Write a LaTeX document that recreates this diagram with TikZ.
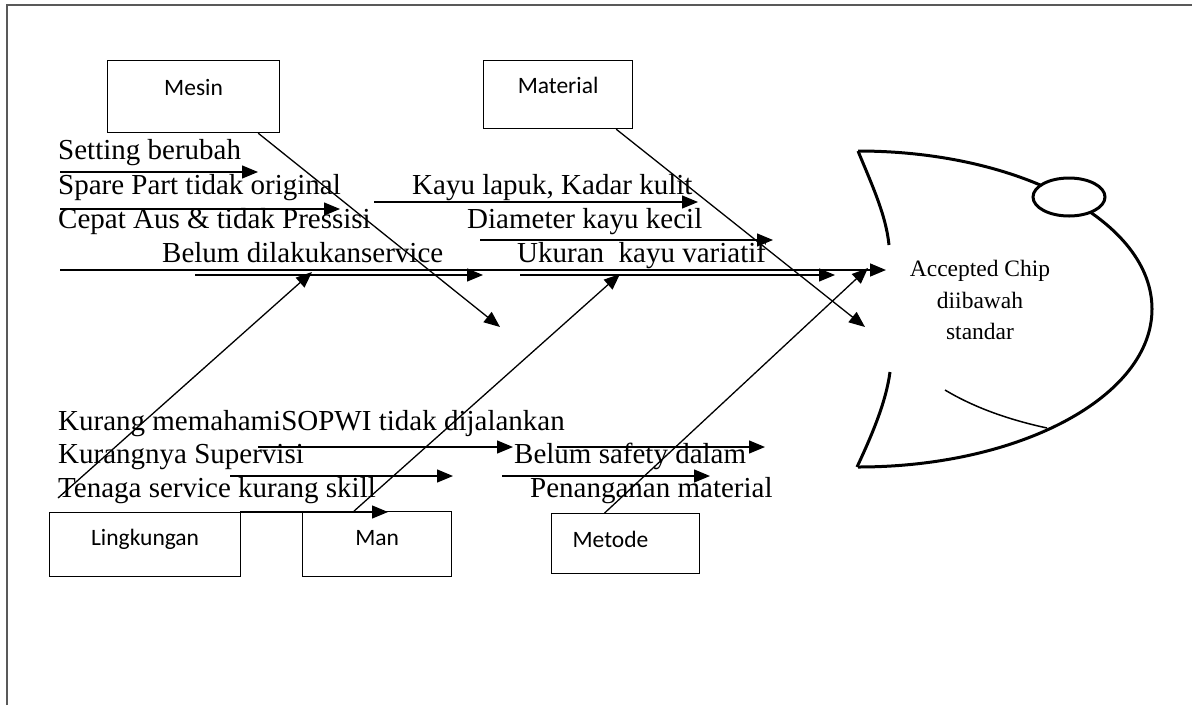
\documentclass[tikz,border=0pt]{standalone}
\usepackage{fontspec}
\setmainfont{Liberation Serif}
\newfontfamily\boxfont{Carlito}
\usetikzlibrary{arrows.meta,calc,shapes.geometric}
\begin{document}
\begin{tikzpicture}[x=1pt,y=-1pt,
  box/.style={draw, line width=1.2pt, rectangle, inner sep=0pt, anchor=north west,
              font=\boxfont\fontsize{23.5}{28}\selectfont},
  cause/.style={line width=1.3pt, -{Triangle[length=16pt,width=13pt]}},
  bone/.style={line width=1.3pt, -{Triangle[length=16pt,width=13pt]}},
  spine/.style={line width=1.6pt, -{Triangle[length=16pt,width=13pt]}},
  lbl/.style={anchor=base west, inner sep=0pt, font=\fontsize{29}{34}\selectfont},
  headline/.style={line width=3pt},
  gill/.style={line width=1.5pt},
  frame/.style={draw=black!65, line width=1.3pt},
]
\useasboundingbox (0,0) rectangle (1192,705);
% frame
\coordinate (fbl) at (7,705);
\coordinate (ftl) at (7,5);
\coordinate (ftr) at (1192,5);
\draw[frame] (fbl) -- (ftl) -- (ftr);

% category boxes
\node[box, minimum width=172pt, text height=34.5pt, text depth=37.5pt] (mesin) at (107,60) {Mesin};
\node[box, minimum width=149pt, text height=32.5pt, text depth=35.5pt] (material) at (483,60) {Material};
\node[box, minimum width=191pt, text height=33pt, text depth=31pt] (lingkungan) at (49,512) {Lingkungan};
\node[box, minimum width=149pt, text height=34pt, text depth=31pt] (man) at (302,511) {Man};
\node[box, text width=106pt, inner xsep=21pt, align=left, text height=34pt, text depth=26pt] (metode) at (551,513) {Metode};

% cause texts
\node[lbl] (t1) at (58,159) {Setting berubah};
\node[lbl] (t2) at (58,194) {Spare Part tidak original};
\node[lbl] (t3) at (58,228) {Cepat Aus \& tidak Pressisi};
\node[lbl] (t4) at (162,262) {Belum dilakukanservice};
\node[lbl] (t5) at (412,194) {Kayu lapuk, Kadar kulit};
\node[lbl] (t6) at (467,228) {Diameter kayu kecil};
\node[lbl] (t7) at (517,262) {Ukuran\ \ kayu variatif};
\node[lbl] (t8) at (58,430) {Kurang memahamiSOPWI tidak dijalankan};
\node[lbl] (t9) at (58,463) {Kurangnya Supervisi};
\node[lbl] (t10) at (58,497) {Tenaga service kurang skill};
\node[lbl] (t11) at (514,463) {Belum safety dalam};
\node[lbl] (t12) at (530,497) {Penanganan material};

% cause arrows
\foreach \i/\xa/\ya/\xb in {1/60/172/258, 2/60/209/340, 3/374/202/698, 4/480/240/773,
    5/195/275/483, 6/520/275/835, 7/258/447/513, 8/230/476/453, 9/240/512/388,
    10/557/447/765, 11/502/476/710}{
  \coordinate (c\i s) at (\xa,\ya);
  \coordinate (c\i e) at (\xb,\ya);
  \draw[cause] (c\i s) -- (c\i e);
}

% spine
\coordinate (tail) at (60,270);
\coordinate (headin) at (886,270);
\draw[spine] (tail) -- (headin);

% bones
\coordinate (mesinEnd) at (500,327);
\coordinate (materialEnd) at (865,327);
\coordinate (lingStart) at (58,498);
\coordinate (lingEnd) at (312,272);
\coordinate (manEnd) at (620,274);
\coordinate (metodeEnd) at (868,268);
\draw[bone] ([xshift=-22pt]mesin.south east) -- (mesinEnd);
\draw[bone] ([xshift=-17pt]material.south east) -- (materialEnd);
\draw[bone] (lingStart) -- (lingEnd);
\draw[bone] ([xshift=-23pt]man.north) -- (manEnd);
\draw[bone] ([xshift=-21pt]metode.north) -- (metodeEnd);

% fish head
\coordinate (hTop) at (858,151);
\coordinate (hBot) at (857,467);
\coordinate (hUpIn) at (889,245);
\coordinate (hLoIn) at (890,372);
\draw[headline] (hTop) arc[start angle=90, end angle=-90, x radius=294pt, y radius=158pt];
\draw[headline] (hTop) .. controls (872,185) and (886,215) .. (hUpIn);
\draw[headline] (hLoIn) .. controls (886,402) and (872,435) .. (hBot);
\coordinate (gillA) at (945,390);
\coordinate (gillB) at (1047,428);
\draw[gill] (gillA) .. controls (975,408) and (1010,420) .. (gillB);
\node[draw, headline, fill=white, ellipse, minimum width=72pt, minimum height=38pt, inner sep=0pt] (eye) at (1069,197) {};
\node[font=\fontsize{23.5}{31.5}\selectfont, align=center, inner sep=0pt] (effect) at (980,300)
  {Accepted Chip\\diibawah\\standar};
\end{tikzpicture}
\end{document}
